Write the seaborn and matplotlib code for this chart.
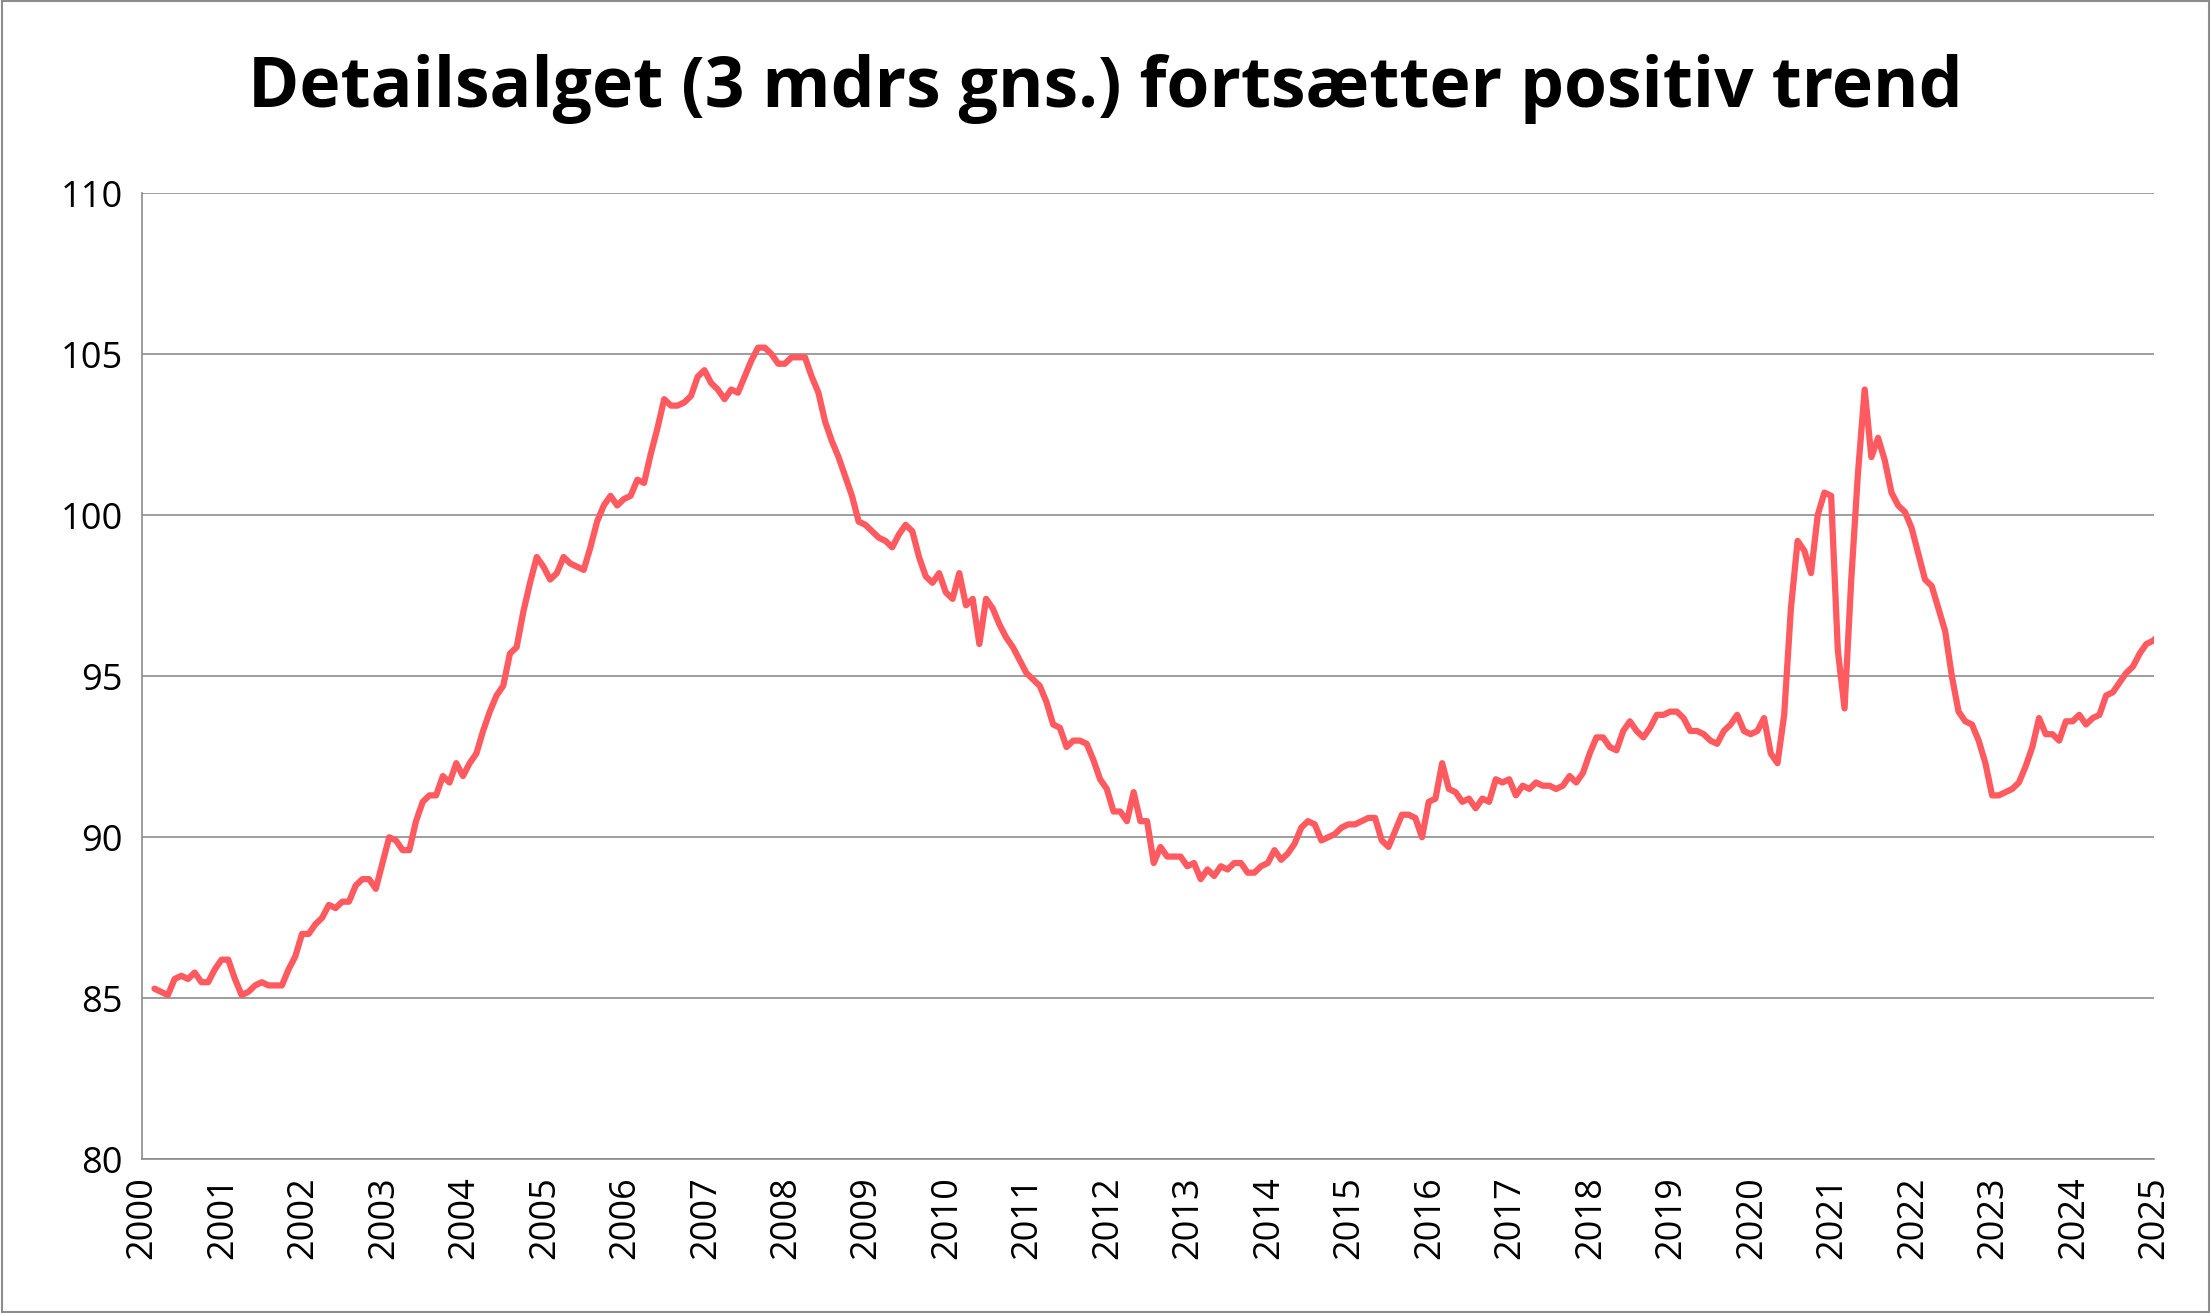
import numpy as np
import pandas as pd
import matplotlib.pyplot as plt
import seaborn as sns

# Månedlige værdier, marts 2000 - februar 2025 (aflæst)
values = [
    85.3, 85.2, 85.1, 85.6, 85.7, 85.6, 85.8, 85.5, 85.5, 85.9, 86.2,
    86.2, 85.6, 85.1, 85.2, 85.4, 85.5, 85.4, 85.4, 85.4, 85.9, 86.3, 87.0,
    87.0, 87.3, 87.5, 87.9, 87.8, 88.0, 88.0, 88.5, 88.7, 88.7, 88.4, 89.2,
    90.0, 89.9, 89.6, 89.6, 90.5, 91.1, 91.3, 91.3, 91.9, 91.7, 92.3, 91.9,
    92.3, 92.6, 93.3, 93.9, 94.4, 94.7, 95.7, 95.9, 97.0, 97.9, 98.7, 98.4,
    98.0, 98.2, 98.7, 98.5, 98.4, 98.3, 99.0, 99.8, 100.3, 100.6, 100.3, 100.5,
    100.6, 101.1, 101.0, 101.9, 102.7, 103.6, 103.4, 103.4, 103.5, 103.7, 104.3, 104.5,
    104.1, 103.9, 103.6, 103.9, 103.8, 104.3, 104.8, 105.2, 105.2, 105.0, 104.7, 104.7,
    104.9, 104.9, 104.9, 104.3, 103.8, 102.9, 102.3, 101.8, 101.2, 100.6, 99.8, 99.7,
    99.5, 99.3, 99.2, 99.0, 99.4, 99.7, 99.5, 98.7, 98.1, 97.9, 98.2, 97.6,
    97.4, 98.2, 97.2, 97.4, 96.0, 97.4, 97.1, 96.6, 96.2, 95.9, 95.5, 95.1,
    94.9, 94.7, 94.2, 93.5, 93.4, 92.8, 93.0, 93.0, 92.9, 92.4, 91.8, 91.5,
    90.8, 90.8, 90.5, 91.4, 90.5, 90.5, 89.2, 89.7, 89.4, 89.4, 89.4, 89.1,
    89.2, 88.7, 89.0, 88.8, 89.1, 89.0, 89.2, 89.2, 88.9, 88.9, 89.1, 89.2,
    89.6, 89.3, 89.5, 89.8, 90.3, 90.5, 90.4, 89.9, 90.0, 90.1, 90.3, 90.4,
    90.4, 90.5, 90.6, 90.6, 89.9, 89.7, 90.2, 90.7, 90.7, 90.6, 90.0, 91.1,
    91.2, 92.3, 91.5, 91.4, 91.1, 91.2, 90.9, 91.2, 91.1, 91.8, 91.7, 91.8,
    91.3, 91.6, 91.5, 91.7, 91.6, 91.6, 91.5, 91.6, 91.9, 91.7, 92.0, 92.6,
    93.1, 93.1, 92.8, 92.7, 93.3, 93.6, 93.3, 93.1, 93.4, 93.8, 93.8, 93.9,
    93.9, 93.7, 93.3, 93.3, 93.2, 93.0, 92.9, 93.3, 93.5, 93.8, 93.3, 93.2,
    93.3, 93.7, 92.6, 92.3, 93.8, 97.1, 99.2, 98.9, 98.2, 100.0, 100.7, 100.6,
    95.8, 94.0, 98.0, 101.3, 103.9, 101.8, 102.4, 101.7, 100.7, 100.3, 100.1, 99.6,
    98.8, 98.0, 97.8, 97.1, 96.4, 95.0, 93.9, 93.6, 93.5, 93.0, 92.3, 91.3,
    91.3, 91.4, 91.5, 91.7, 92.2, 92.8, 93.7, 93.2, 93.2, 93.0, 93.6, 93.6,
    93.8, 93.5, 93.7, 93.8, 94.4, 94.5, 94.8, 95.1, 95.3, 95.7, 96.0, 96.1,
    96.3,
]
years = list(range(2000, 2026))
y_ticks = [80, 85, 90, 95, 100, 105, 110]

df = pd.DataFrame({'x': [2000 + (1.8 + i) / 12 for i in range(len(values))],
                   'y': values})

sns.set_style('white')
fig = plt.figure(figsize=(22.11, 13.13), dpi=100)
ax = fig.add_axes([0.0644, 0.117, 0.910, 0.736])

sns.lineplot(data=df, x='x', y='y', ax=ax, color='#FF5A5F', linewidth=4.5)

ax.set_xlim(2000, 2025)
ax.set_ylim(80, 110)
ax.set_yticks(y_ticks)
ax.set_xticks(years)
ax.set_xticklabels([str(y) for y in years], rotation=90)
ax.yaxis.grid(True, color='#8c8c8c', linewidth=1.2)
ax.xaxis.grid(False)
ax.set_axisbelow(True)
for s in ['top', 'right']:
    ax.spines[s].set_visible(False)
for s in ['left', 'bottom']:
    ax.spines[s].set_color('#8c8c8c')
    ax.spines[s].set_linewidth(1.2)
ax.tick_params(axis='x', length=8, color='#8c8c8c', labelsize=26, labelcolor='black', pad=4)
ax.tick_params(axis='y', length=8, color='#8c8c8c', labelsize=26, labelcolor='black', pad=6)
for lbl in ax.get_xticklabels() + ax.get_yticklabels():
    lbl.set_family('Open Sans')
ax.set_xlabel('')
ax.set_ylabel('')

fig.text(0.5, 0.932, 'Detailsalget (3 mdrs gns.) fortsætter positiv trend',
         ha='center', va='center', fontsize=50, fontweight='bold',
         family='Open Sans', color='black')
fig.patches.append(plt.Rectangle((0.001, 0.001), 0.998, 0.998, transform=fig.transFigure,
                                 fill=False, edgecolor='#8c8c8c', linewidth=1.5))

fig.savefig('out.png', dpi=100)
